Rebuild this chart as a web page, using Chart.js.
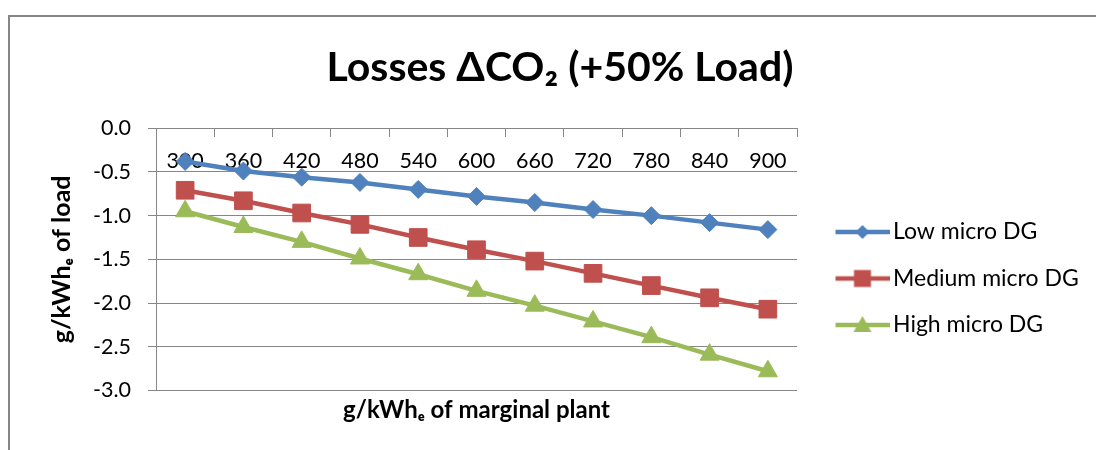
<!DOCTYPE html>
<html>
<head>
<meta charset="utf-8">
<script src="https://cdn.jsdelivr.net/npm/chart.js@4.4.0/dist/chart.umd.min.js"></script>
<style>
  html, body { margin: 0; padding: 0; background: #fff; }
  body { position: relative; width: 1096px; height: 450px; overflow: hidden; }
  #frame { position: absolute; left: 8px; top: 15px; width: 1200px; height: 600px; border: 2px solid #868686; }
  #wrap { position: absolute; left: 0; top: 0; width: 1096px; height: 450px; }
</style>
</head>
<body>
<div id="frame"></div>
<div id="wrap"><canvas id="chart" width="1096" height="450"></canvas></div>
<script>
// Data
const plantLabels = ['300', '360', '420', '480', '540', '600', '660', '720', '780', '840', '900'];
const lowDG    = [-0.38, -0.49, -0.56, -0.62, -0.70, -0.78, -0.85, -0.93, -1.00, -1.08, -1.16];
const mediumDG = [-0.71, -0.83, -0.97, -1.10, -1.25, -1.39, -1.52, -1.66, -1.80, -1.94, -2.07];
const highDG   = [-0.95, -1.13, -1.30, -1.49, -1.67, -1.86, -2.03, -2.21, -2.39, -2.59, -2.78];
const seriesNames = ['Low micro DG', 'Medium micro DG', 'High micro DG'];
const yMin = -3.0, yMax = 0.0, yStep = 0.5;

//  Styles 
const FONT   = 'Lato, "DejaVu Sans", sans-serif';
const GRID   = '#868686';
const BLUE   = '#4F81BD';
const RED    = '#C0504D';
const GREEN  = '#9BBB59';
const LEGEND_SIZE = 23;

// Legend glyph: line with marker in the middle (Excel style)
function makeGlyph(color, shape) {
  const c = document.createElement('canvas');
  c.width = 62; c.height = 22;
  const g = c.getContext('2d');
  g.strokeStyle = color;
  g.fillStyle = color;
  g.lineWidth = 4.5;
  g.beginPath(); g.moveTo(8, 11); g.lineTo(62, 11); g.stroke();
  const cx = 35, cy = 11;
  g.beginPath();
  if (shape === 'diamond') {
    g.moveTo(cx - 7, cy); g.lineTo(cx, cy - 7); g.lineTo(cx + 7, cy); g.lineTo(cx, cy + 7);
  } else if (shape === 'square') {
    g.rect(cx - 8.5, cy - 8.5, 17, 17);
  } else {
    g.moveTo(cx, cy - 9); g.lineTo(cx + 9, cy + 7); g.lineTo(cx - 9, cy + 7);
  }
  g.closePath(); g.fill();
  return c;
}
const glyphs = [makeGlyph(BLUE, 'diamond'), makeGlyph(RED, 'square'), makeGlyph(GREEN, 'triangle')];

// Layout sums so legend and title land where the reference has them
const meas = document.createElement('canvas').getContext('2d');
meas.font = LEGEND_SIZE + 'px ' + FONT;
const maxText = Math.max(...seriesNames.map(n => meas.measureText(n).width));
const padR = Math.max(0, 193 - maxText);
const padL = 24 + padR;

const ctx = document.getElementById('chart');
new Chart(ctx, {
  type: 'line',
  data: {
    labels: plantLabels,
    datasets: [
      { label: seriesNames[0], data: lowDG, borderColor: BLUE, backgroundColor: BLUE,
        pointStyle: 'rectRot', pointRadius: 9, pointBorderWidth: 1 },
      { label: seriesNames[1], data: mediumDG, borderColor: RED, backgroundColor: RED,
        pointStyle: 'rect', pointRadius: 12.5, pointBorderWidth: 1 },
      { label: seriesNames[2], data: highDG, borderColor: GREEN, backgroundColor: GREEN,
        pointStyle: 'triangle', pointRadius: 11, pointBorderWidth: 1 }
    ].map(d => Object.assign(d, { borderWidth: 4.5, tension: 0, xAxisID: 'x', yAxisID: 'y' }))
  },
  options: {
    responsive: false,
    animation: false,
    layout: { padding: { left: padL, right: padR, top: 0, bottom: 20 } },
    plugins: {
      title: {
        display: true,
        text: 'Losses ΔCO₂ (+50% Load)',
        color: '#000',
        font: { family: FONT, size: 41, weight: 'bold' },
        padding: { top: 43, bottom: 36 }
      },
      legend: {
        position: 'right',
        maxWidth: 400,
        // empty title only pushes the entries down to the reference position
        title: { display: true, text: ' ', font: { family: FONT, size: 10, lineHeight: 1 }, padding: { top: 117, bottom: 0 } },
        labels: {
          usePointStyle: true,
          pointStyleWidth: 46,
          padding: 23.5,
          color: '#000',
          font: { family: FONT, size: LEGEND_SIZE },
          generateLabels: (chart) => {
            const items = Chart.defaults.plugins.legend.labels.generateLabels(chart);
            items.forEach((it, i) => { it.pointStyle = glyphs[i]; });
            return items;
          }
        }
      },
      tooltip: { enabled: false }
    },
    scales: {
      x: {
        type: 'category',
        position: { y: 0 },
        offset: true,
        grid: { offset: true, drawOnChartArea: false, drawTicks: true, tickLength: 8, color: GRID },
        border: { color: GRID, width: 1 },
        ticks: { padding: 12, maxRotation: 0, autoSkip: false, color: '#000', font: { family: FONT, size: 21.5 } }
      },
      xTitle: {
        type: 'category',
        position: 'bottom',
        grid: { display: false, drawTicks: false },
        border: { display: false },
        ticks: { display: false },
        title: {
          display: true,
          text: 'g/kWhₑ of marginal plant',
          color: '#000',
          font: { family: FONT, size: 24, weight: 'bold' },
          padding: { top: 5.5, bottom: 5.2 }
        }
      },
      y: {
        min: yMin,
        max: yMax,
        ticks: {
          stepSize: yStep,
          padding: 17,
          color: '#000',
          font: { family: FONT, size: 21.5 },
          callback: v => v.toFixed(1)
        },
        grid: { color: GRID, lineWidth: 1, tickLength: 8 },
        border: { color: GRID, width: 1 },
        title: {
          display: true,
          text: 'g/kWhₑ of load',
          color: '#000',
          font: { family: FONT, size: 25, weight: 'bold' },
          padding: { top: 62 - padL - 15, bottom: 0 }
        },
        afterFit: s => { s.width = 156 - padL; }
      },
      yGap: {
        type: 'linear',
        position: 'right',
        grid: { display: false, drawTicks: false },
        border: { display: false },
        ticks: { display: false },
        afterFit: s => { s.width = 15; }
      }
    }
  }
});
</script>
</body>
</html>
